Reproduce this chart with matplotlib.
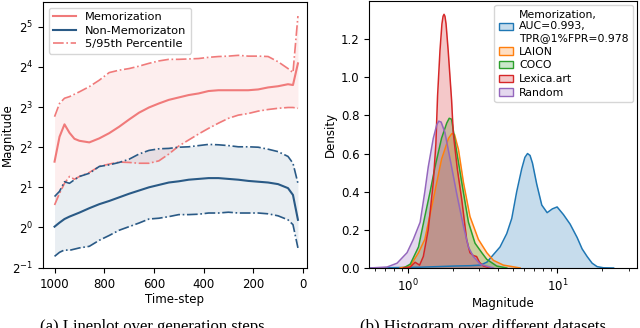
import matplotlib
matplotlib.use("Agg")
import numpy as np
import matplotlib.pyplot as plt
from matplotlib.patches import Patch
from matplotlib.lines import Line2D

# ---- (a) magnitude over time-steps, values are log2 exponents ----
timesteps = [1000, 980, 960, 940, 920, 900, 860, 820, 780, 740, 700, 660, 620, 580,
             540, 500, 460, 420, 380, 340, 300, 260, 220, 180, 140, 100, 60, 40, 20]
mem_mean = [1.64, 2.26, 2.57, 2.36, 2.21, 2.16, 2.12, 2.22, 2.35, 2.51, 2.69, 2.86, 2.99, 3.09,
            3.18, 3.24, 3.30, 3.34, 3.40, 3.42, 3.42, 3.42, 3.42, 3.44, 3.49, 3.52, 3.57, 3.55, 4.09]
mem_hi = [2.76, 3.09, 3.22, 3.26, 3.32, 3.38, 3.51, 3.67, 3.86, 3.92, 3.96, 4.02, 4.09, 4.15,
          4.19, 4.19, 4.20, 4.21, 4.24, 4.26, 4.27, 4.29, 4.27, 4.27, 4.26, 4.13, 3.96, 3.86, 5.27]
mem_lo = [0.56, 0.85, 1.10, 1.27, 1.20, 1.27, 1.37, 1.52, 1.58, 1.63, 1.62, 1.60, 1.60, 1.66,
          1.83, 2.03, 2.18, 2.33, 2.47, 2.60, 2.72, 2.80, 2.84, 2.90, 2.94, 2.97, 2.99, 2.99, 2.97]
non_mean = [0.02, 0.12, 0.21, 0.27, 0.32, 0.37, 0.48, 0.58, 0.66, 0.75, 0.84, 0.92, 1.00, 1.06,
            1.12, 1.15, 1.19, 1.21, 1.23, 1.23, 1.21, 1.19, 1.16, 1.14, 1.12, 1.08, 0.98, 0.81, 0.19]
non_hi = [0.77, 0.90, 1.14, 1.10, 1.19, 1.27, 1.35, 1.52, 1.56, 1.62, 1.70, 1.83, 1.92, 1.96,
          1.97, 2.00, 2.01, 2.04, 2.07, 2.06, 2.04, 2.01, 2.01, 2.00, 1.95, 1.89, 1.77, 1.60, 1.10]
non_lo = [-0.72, -0.62, -0.56, -0.57, -0.54, -0.51, -0.47, -0.32, -0.20, -0.07, 0.02, 0.11, 0.21, 0.23,
          0.27, 0.32, 0.32, 0.33, 0.36, 0.36, 0.38, 0.36, 0.36, 0.36, 0.34, 0.29, 0.19, 0.07, -0.51]

# ---- (b) density curves (magnitude, density) ----
mem_x = [0.55, 1.20, 2.00, 2.59, 3.03, 3.36, 3.72, 4.12, 4.57, 4.94, 5.33, 5.76, 6.05, 6.30, 6.55, 6.80,
         7.26, 7.85, 8.53, 9.25, 9.95, 10.97, 12.16, 13.55, 14.64, 15.82, 17.09, 18.46, 20.35, 23.8]
mem_d = [0.0, 0.004, 0.01, 0.012, 0.015, 0.03, 0.07, 0.11, 0.18, 0.26, 0.40, 0.52, 0.58, 0.60, 0.59, 0.55,
         0.44, 0.33, 0.29, 0.31, 0.32, 0.28, 0.23, 0.16, 0.10, 0.06, 0.025, 0.007, 0.001, 0.0]
laion_x = [0.88, 1.03, 1.17, 1.29, 1.47, 1.67, 1.86, 1.96, 2.04, 2.17, 2.34, 2.59, 2.95, 3.36, 3.72, 4.34, 5.62]
laion_d = [0.0, 0.01, 0.08, 0.15, 0.36, 0.57, 0.68, 0.705, 0.70, 0.62, 0.45, 0.27, 0.15, 0.08, 0.04, 0.015, 0.0]
coco_x = [0.93, 1.03, 1.17, 1.29, 1.40, 1.51, 1.67, 1.81, 1.88, 1.95, 2.06, 2.28, 2.53, 2.80, 3.11, 3.36, 3.92, 4.57]
coco_d = [0.0, 0.02, 0.11, 0.27, 0.40, 0.53, 0.68, 0.76, 0.785, 0.78, 0.66, 0.45, 0.24, 0.13, 0.08, 0.045, 0.01, 0.0]
lexica_x = [0.93, 1.03, 1.11, 1.19, 1.26, 1.36, 1.47, 1.53, 1.57, 1.63, 1.68, 1.71, 1.735, 1.76, 1.79,
            1.85, 1.95, 2.00, 2.13, 2.28, 2.46, 2.59, 2.73, 2.87, 3.00, 3.19, 3.53]
lexica_d = [0.0, 0.005, 0.03, 0.015, 0.06, 0.20, 0.45, 0.65, 0.90, 1.14, 1.28, 1.32, 1.33, 1.32, 1.28,
            1.14, 0.88, 0.71, 0.52, 0.36, 0.15, 0.08, 0.065, 0.06, 0.03, 0.01, 0.0]
random_x = [0.55, 0.72, 0.84, 0.98, 1.08, 1.20, 1.29, 1.36, 1.47, 1.55, 1.60, 1.66, 1.76, 1.95,
            2.11, 2.34, 2.53, 2.73, 3.03, 3.72]
random_d = [0.0, 0.005, 0.025, 0.08, 0.15, 0.24, 0.40, 0.53, 0.68, 0.75, 0.77, 0.765, 0.71, 0.53,
            0.39, 0.22, 0.11, 0.06, 0.02, 0.0]

red = "#f07a7a"
navy = "#2a5a86"

fig = plt.figure(figsize=(6.4, 3.28), dpi=100)
ax1 = fig.add_axes([0.067, 0.183, 0.4125, 0.811])
ax2 = fig.add_axes([0.577, 0.183, 0.419, 0.814])

# (a)
t = np.array(timesteps)
ax1.fill_between(t, 2.0 ** np.array(mem_lo), 2.0 ** np.array(mem_hi), color=red, alpha=0.12, lw=0)
ax1.fill_between(t, 2.0 ** np.array(non_lo), 2.0 ** np.array(non_hi), color=navy, alpha=0.1, lw=0)
ax1.plot(t, 2.0 ** np.array(mem_mean), color=red, lw=1.5)
ax1.plot(t, 2.0 ** np.array(mem_hi), color=red, lw=1.2, ls="-.")
ax1.plot(t, 2.0 ** np.array(mem_lo), color=red, lw=1.2, ls="-.")
ax1.plot(t, 2.0 ** np.array(non_mean), color=navy, lw=1.5)
ax1.plot(t, 2.0 ** np.array(non_hi), color=navy, lw=1.2, ls="-.")
ax1.plot(t, 2.0 ** np.array(non_lo), color=navy, lw=1.2, ls="-.")
ax1.set_yscale("log", base=2)
ax1.set_ylim(2 ** -1.01, 2 ** 5.62)
ax1.set_xlim(1047, -16)
ax1.set_xticks([1000, 800, 600, 400, 200, 0])
ax1.set_yticks([2.0 ** k for k in range(-1, 6)])
ax1.tick_params(labelsize=8.5)
ax1.set_xlabel("Time-step", fontsize=8.5, labelpad=2)
ax1.set_ylabel("Magnitude", fontsize=8.5)
ax1.yaxis.set_label_coords(-0.108, 0.5)
handles1 = [Line2D([], [], color=red, lw=1.5),
            Line2D([], [], color=navy, lw=1.5),
            Line2D([], [], color=red, lw=1.2, ls="-.")]
ax1.legend(handles1, ["Memorization", "Non-Memorizaton", "5/95th Percentile"],
           loc="upper left", fontsize=8.2, handlelength=2.0, borderaxespad=0.5,
           labelspacing=0.3)

# (b)
curves = [
    ("Memorization,\nAUC=0.993,\nTPR@1%FPR=0.978", mem_x, mem_d, "tab:blue"),
    ("LAION", laion_x, laion_d, "tab:orange"),
    ("COCO", coco_x, coco_d, "tab:green"),
    ("Lexica.art", lexica_x, lexica_d, "tab:red"),
    ("Random", random_x, random_d, "tab:purple"),
]
handles2 = []
for label, xs, ds, c in curves:
    ax2.fill_between(xs, ds, color=c, alpha=0.25, lw=0)
    ax2.plot(xs, ds, color=c, lw=1.1)
    handles2.append(Patch(facecolor=matplotlib.colors.to_rgba(c, 0.25), edgecolor=c, lw=1.0))
ax2.set_xscale("log")
ax2.set_xlim(0.547, 34.4)
ax2.set_ylim(0, 1.40)
ax2.set_yticks([0.0, 0.2, 0.4, 0.6, 0.8, 1.0, 1.2])
ax2.tick_params(labelsize=8.5)
ax2.set_xlabel("Magnitude", fontsize=8.5, labelpad=2)
ax2.set_ylabel("Density", fontsize=8.5, labelpad=3)
ax2.legend(handles2, [c[0] for c in curves], loc="upper right", fontsize=7.8,
           handlelength=1.3, handletextpad=0.6, labelspacing=0.35, borderaxespad=0.4)

# captions, cut off at the bottom edge like the source
fig.text(0.238, 0.027, "(a) Lineplot over generation steps", family="Liberation Serif",
         fontsize=12, ha="center", va="top")
fig.text(0.755, 0.027, "(b) Histogram over different datasets", family="Liberation Serif",
         fontsize=12, ha="center", va="top")

fig.savefig("out.png", dpi=100)
